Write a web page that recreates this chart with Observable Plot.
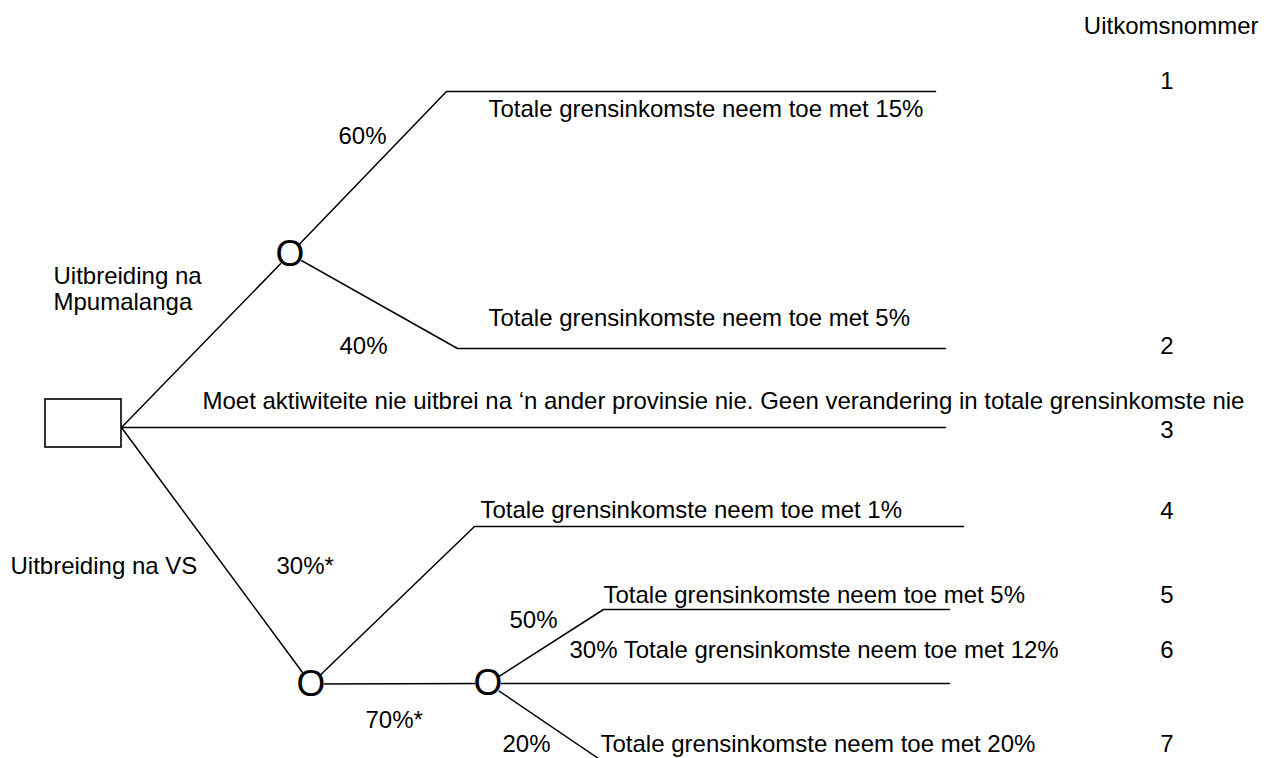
<!DOCTYPE html>
<html>
<head>
<meta charset="utf-8">
<script src="https://cdn.jsdelivr.net/npm/d3@7"></script>
<script src="https://cdn.jsdelivr.net/npm/@observablehq/plot@0.6"></script>
<style>
  html, body { margin: 0; padding: 0; background: #fff; overflow: hidden; }
  #chart svg { display: block; }
</style>
</head>
<body>
<div id="chart"></div>
<script>
// ---- Tree nodes (diagram coordinates) ----
const nodeIds   = ["D", "C1", "C2", "C3"];
const nodeTypes = ["decision", "chance", "chance", "chance"];
const nodeX     = [121, 289.5, 310.5, 487.5];
const nodeY     = [427, 253.5, 683.5, 683];
const decisionBox = [{x1: 45, x2: 121, y1: 399, y2: 447}];

// ---- Branches: start node, optional knee, end (node id or point) ----
const linkFrom = ["D", "D", "D", "C1", "C1", "C2", "C2", "C3", "C3", "C3"];
const linkKnee = [null, null, null, [446, 91], [457, 348], [474, 526], null, [603, 609], null, null];
const linkEnd  = ["C1", [945, 427], "C2", [935, 91], [945, 348], [963, 526], "C3", [949, 609], [949, 683], [598, 758]];

// ---- Outcome texts ----
const outcomeTexts = [
  "Totale grensinkomste neem toe met 15%",
  "Totale grensinkomste neem toe met 5%",
  "Moet aktiwiteite nie uitbrei na \u2018n ander provinsie nie. Geen verandering in totale grensinkomste nie",
  "Totale grensinkomste neem toe met 1%",
  "Totale grensinkomste neem toe met 5%",
  "30% Totale grensinkomste neem toe met 12%",
  "Totale grensinkomste neem toe met 20%"
];
const outcomeTextX = [488, 488, 202, 480, 603, 569, 600];
const outcomeTextY = [108, 317, 400, 509, 594, 649, 743];

// ---- Outcome numbers ----
const outcomeNumbers = ["1", "2", "3", "4", "5", "6", "7"];
const outcomeNumberY = [80, 345, 429, 510, 594, 649, 743];
const outcomeNumberX = 1166.5;
const outcomeHeader  = "Uitkomsnommer";

// ---- Decision alternatives ----
const decisionLabels = ["Uitbreiding na\nMpumalanga", "Uitbreiding na VS"];
const decisionLabelX = [53, 10];
const decisionLabelY = [288, 565];

// ---- Probabilities ----
const probLabels = ["60%", "40%", "30%*", "70%*", "50%", "20%"];
const probX      = [338, 339, 276, 365, 509, 502];
const probY      = [135, 345, 565, 719, 619, 743];

// ---- Build tables ----
const pos = v => typeof v === "string"
  ? [nodeX[nodeIds.indexOf(v)], nodeY[nodeIds.indexOf(v)]]
  : v;
const linkRows = linkFrom.flatMap((f, i) => {
  const pts = [pos(f)];
  if (linkKnee[i]) pts.push(linkKnee[i]);
  pts.push(pos(linkEnd[i]));
  return pts.map(([x, y]) => ({link: i, x, y}));
});
const chanceRows = nodeIds
  .map((id, i) => ({id, type: nodeTypes[i], x: nodeX[i], y: nodeY[i]}))
  .filter(d => d.type === "chance");
const textRows = [
  ...outcomeTexts.map((t, i) => ({t, x: outcomeTextX[i], y: outcomeTextY[i], a: "start"})),
  ...decisionLabels.map((t, i) => ({t, x: decisionLabelX[i], y: decisionLabelY[i], a: "start"})),
  ...probLabels.map((t, i) => ({t, x: probX[i], y: probY[i], a: "start"})),
  ...outcomeNumbers.map((t, i) => ({t, x: outcomeNumberX, y: outcomeNumberY[i], a: "middle"})),
  {t: outcomeHeader, x: 1258, y: 25, a: "end"}
];

const FONT = "'Liberation Sans', Arial, Helvetica, sans-serif";

const chart = Plot.plot({
  width: 1266,
  height: 758,
  margin: 0,
  x: {domain: [0, 1266], range: [0, 1266], axis: null},
  y: {domain: [0, 758], range: [0, 758], axis: null},
  style: {fontFamily: FONT, background: "white", color: "black"},
  marks: [
    Plot.line(linkRows, {x: "x", y: "y", z: "link", stroke: "black", strokeWidth: 1.5}),
    Plot.rect(decisionBox, {x1: "x1", x2: "x2", y1: "y1", y2: "y2", fill: "white", stroke: "black", strokeWidth: 1.6}),
    Plot.dot(chanceRows, {x: "x", y: "y", r: 13, fill: "white", stroke: null}),
    Plot.text(chanceRows, {x: "x", y: "y", text: () => "O", fontSize: 37, fill: "black"}),
    ...["start", "middle", "end"].map(a =>
      Plot.text(textRows.filter(d => d.a === a), {
        x: "x", y: "y", text: "t", textAnchor: a, lineAnchor: "middle",
        fontSize: 24, lineHeight: 1.08, fill: "black"
      })
    )
  ]
});
document.getElementById("chart").appendChild(chart);
</script>
</body>
</html>
